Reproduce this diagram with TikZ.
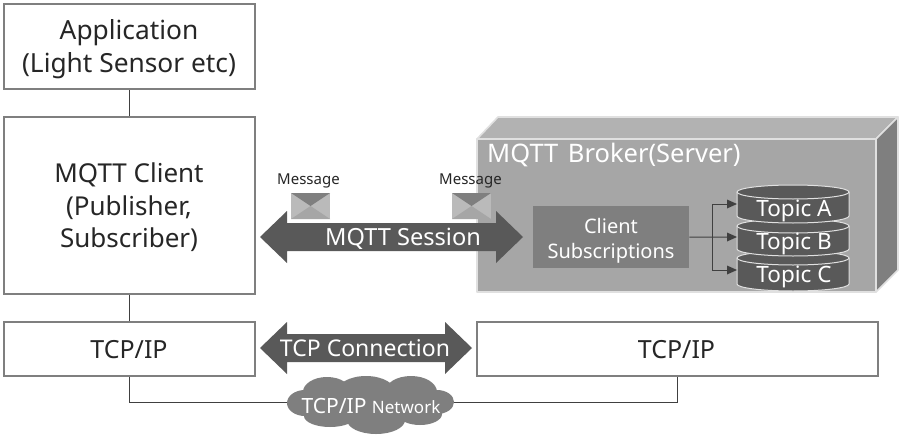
\documentclass[tikz,border=0pt]{standalone}
\usepackage{fontspec}
\setmainfont{Noto Sans}
\tikzset{
  x=1pt,y=-1pt,
  plainbox/.style={draw=boxgray,line width=2pt,fill=white,inner sep=0pt},
  link/.style={draw=linkdark,line width=1pt},
  dblarrow/.style={fill=arrowdark,draw=none},
  lighttext/.style={text=white,inner sep=0pt,align=center},
  darktext/.style={text=black!85,inner sep=0pt,align=center},
  cube/.style={draw=cubeedge,line width=1.6pt,line join=round},
  topicdisk/.style={fill=arrowdark,draw=cubeedge,line width=1pt},
  feed/.style={draw=feeddark,line width=1pt},
  feedtip/.style={fill=feeddark,draw=none},
}
\definecolor{boxgray}{HTML}{7F7F7F}
\definecolor{linkdark}{HTML}{404040}
\definecolor{arrowdark}{HTML}{595959}
\definecolor{cubeedge}{HTML}{E0E0E0}
\definecolor{feeddark}{HTML}{404040}
\newcommand{\mailicon}[2]{%
  \fill[#2] (#1,193) rectangle ++(39,26);
  \fill[boxgray] (#1,193) -- ++(39,0) -- ++(-19.5,13) -- cycle;
  \fill[black!35] (#1,219) -- ++(19.5,-13) -- ++(19.5,13) -- cycle;
}
\newcommand{\topicdrum}[2]{% top centre y, bottom centre y
  \path[topicdisk] (737,#1) -- (737,#2) arc[start angle=180,end angle=360,x radius=56,y radius=-7] -- (849,#1) arc[start angle=0,end angle=180,x radius=56,y radius=-7] -- cycle;
  \draw[cubeedge,line width=1pt] (737,#1) arc[start angle=180,end angle=360,x radius=56,y radius=-7];
}
\begin{document}
\begin{tikzpicture}
\useasboundingbox (0,0) rectangle (901,436);
\fill[white] (0,0) rectangle (901,436);

\node[plainbox,minimum width=251pt,minimum height=85pt,anchor=north west] (app) at (3,3) {};
\node[plainbox,minimum width=251pt,minimum height=177pt,anchor=north west] (client) at (3,116) {};
\node[plainbox,minimum width=251pt,minimum height=54pt,anchor=north west] (tcpl) at (3,321) {};
\node[plainbox,minimum width=401pt,minimum height=54pt,anchor=north west] (tcpr) at (476,321) {};
\draw[link] (app.south) -- (client.north);
\draw[link] (client.south) -- (tcpl.north);
\coordinate (netl) at (295,402);
\coordinate (netr) at (446,402);
\draw[link] (tcpl.south) |- (netl);
\draw[link] (tcpr.south) |- (netr);
% cloud
\fill[boxgray] (305,403) ellipse[x radius=18,y radius=13]
  (327,392) ellipse[x radius=24,y radius=15]
  (366,393) ellipse[x radius=30,y radius=17]
  (411,392) ellipse[x radius=26,y radius=16]
  (437,402) ellipse[x radius=17,y radius=12]
  (420,414) ellipse[x radius=22,y radius=11]
  (376,420) ellipse[x radius=29,y radius=14]
  (330,416) ellipse[x radius=26,y radius=11]
  (370,404) ellipse[x radius=60,y radius=18];

\node[darktext,font=\fontsize{26.3}{33}\selectfont] (apptext) at (129,49) {Application\\(Light Sensor etc)};
\node[darktext,font=\fontsize{26}{32.5}\selectfont] (clienttext) at (129,207.5) {MQTT Client\\(Publisher,\\Subscriber)};
\node[darktext,font=\fontsize{25}{32}\selectfont] at (129,350) {TCP/IP};
\node[darktext,font=\fontsize{25}{32}\selectfont] at (676.5,350) {TCP/IP};

% broker
\filldraw[cube,fill=black!30] (477,139) -- (498,117) -- (898,117) -- (876,139) -- cycle;
\filldraw[cube,fill=boxgray] (876,139) -- (898,117) -- (898,270) -- (876,292) -- cycle;
\filldraw[cube,fill=black!35] (477,139) rectangle (876,292);
\node[lighttext,anchor=west,font=\fontsize{25.5}{30}\selectfont] (brokertext) at (487,155) {MQTT\hspace{3pt} Broker(Server)};

% messages
\mailicon{291}{black!27}
\mailicon{452}{black!27}
\node[darktext,font=\fontsize{15}{16}\selectfont] (m1) at (308.5,181) {Message};
\node[darktext,font=\fontsize{15}{16}\selectfont] (m2) at (470.5,181) {Message};

% arrows
\fill[dblarrow] (260,237) -- (287,211) -- (287,223) -- (496,223) -- (496,211) -- (523,237) -- (496,263) -- (496,251) -- (287,251) -- (287,263) -- cycle;
\node[lighttext,font=\fontsize{23.6}{28}\selectfont] (session) at (403,239) {MQTT Session};
\fill[dblarrow] (260,348) -- (287,322) -- (287,334) -- (445,334) -- (445,322) -- (472,348) -- (445,374) -- (445,362) -- (287,362) -- (287,374) -- cycle;
\node[lighttext,font=\fontsize{23}{28}\selectfont] (tcpconn) at (365,348.5) {TCP Connection};

% subscriptions
\node[fill=boxgray,minimum width=156pt,minimum height=62pt,inner sep=0pt,anchor=north west] (subs) at (533,206) {};
\node[lighttext,font=\fontsize{20}{25}\selectfont] at (611,241) {Client\\Subscriptions};

% topics
\topicdrum{258}{284}
\topicdrum{226}{249}
\topicdrum{192}{216}
\coordinate (ta) at (737,204);
\coordinate (tb) at (737,237);
\coordinate (tc) at (737,270);
\draw[feed] (subs.east) -- (728,237);
\draw[feed] (728,204) -- (712,204) -- (712,270) -- (728,270);
\fill[feedtip] (ta) -- ++(-10,-4.5) -- ++(0,9) -- cycle;
\fill[feedtip] (tb) -- ++(-10,-4.5) -- ++(0,9) -- cycle;
\fill[feedtip] (tc) -- ++(-10,-4.5) -- ++(0,9) -- cycle;
\node[lighttext,font=\fontsize{22.5}{24}\selectfont] at (794,211) {Topic A};
\node[lighttext,font=\fontsize{22.5}{24}\selectfont] at (794,244) {Topic B};
\node[lighttext,font=\fontsize{22.5}{24}\selectfont] at (794,277) {Topic C};

\node[lighttext,font=\fontsize{21}{24}\selectfont] (nettext) at (371,405.5) {TCP/IP {\fontsize{17}{20}\selectfont Network}};
\end{tikzpicture}
\end{document}
